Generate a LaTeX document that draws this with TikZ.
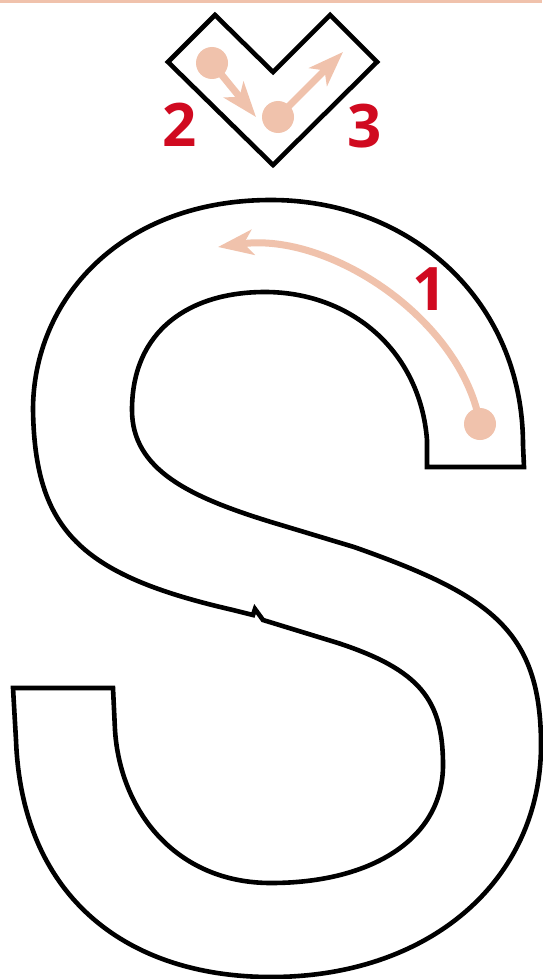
\documentclass[tikz,border=0pt]{standalone}
\usepackage{fontspec}
\setmainfont{Open Sans}
\usetikzlibrary{arrows.meta}
\definecolor{peach}{RGB}{240,194,172}
\definecolor{numred}{RGB}{208,10,32}
\begin{document}
\begin{tikzpicture}[x=1pt,y=-1pt,
  outline/.style={draw=black,line width=4.6pt,line join=miter},
  flow/.style={draw=peach,line width=7pt,-{Stealth[length=35pt,width=25pt,inset=9pt]}},
  dot/.style={circle,fill=peach,minimum size=32pt,inner sep=0pt},
  num/.style={text=numred,font=\fontsize{60}{60}\selectfont\bfseries,inner sep=0pt}]
\useasboundingbox (0,0) rectangle (542,979);
\fill[white] (0,0) rectangle (542,979);
\fill[peach] (0,0) rectangle (542,3.5);

% check-mark frame
\draw[outline] (168,62) -- (215,15) -- (273,72) -- (330,15) -- (377,62) -- (273,165) -- cycle;

% S outline
\draw[outline] (427,467) -- (427,440)
  .. controls (420,350) and (350,292) .. (265,292)
  .. controls (190,292) and (132,330) .. (132,410)
  .. controls (132,470) and (190,497) .. (271,522)
  -- (354,547)
  .. controls (490,595) and (541,630) .. (541,745)
  .. controls (541,880) and (430,977) .. (271,977)
  .. controls (130,977) and (22,900) .. (16,740)
  -- (13,688) -- (113,688) -- (115,730)
  .. controls (120,810) and (175,883) .. (271,883)
  .. controls (370,883) and (443,840) .. (443,765)
  .. controls (443,700) and (420,670) .. (338,643)
  -- (263,620) -- (255,609) -- (253,615) -- (233,610)
  .. controls (80,575) and (35,530) .. (33,410)
  .. controls (33,300) and (120,200) .. (271,200)
  .. controls (410,200) and (523,300) .. (523,445)
  -- (524,467) -- cycle;

% dots
\node[dot] (d1) at (480,424) {};
\node[dot] (d2) at (212,63) {};
\node[dot] (d3) at (278,117) {};
\coordinate (t1) at (218,247);
\coordinate (t2) at (256,117);
\coordinate (t3) at (343,52);

% arrows
\draw[flow] (d1.center) .. controls (462,320) and (330,232) .. (t1);
\draw[flow] (d2.center) -- (t2);
\draw[flow] (d3.center) -- (t3);

% numbers
\node[num] (n1) at (430,289) {1};
\node[num] (n2) at (180,125) {2};
\node[num] (n3) at (365,126) {3};
\end{tikzpicture}
\end{document}
